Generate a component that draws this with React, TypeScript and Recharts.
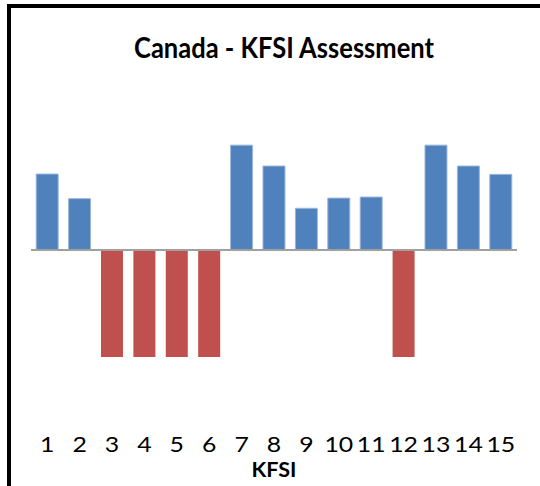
import React from 'react';
import { BarChart, Bar, XAxis, YAxis, Cell, ReferenceLine } from 'recharts';

const categories = ['1', '2', '3', '4', '5', '6', '7', '8', '9', '10', '11', '12', '13', '14', '15'];
const scores = [0.71, 0.48, -1, -1, -1, -1, 0.98, 0.785, 0.39, 0.485, 0.495, -1, 0.98, 0.785, 0.707];
const titleText = 'Canada - KFSI Assessment';
const axisTitle = 'KFSI';

const data = categories.map((c, i) => ({ kfsi: c, score: scores[i] }));

const FONT = 'Lato, "Open Sans", sans-serif';

const Tick = (props: any) => {
  const { x, y, payload } = props;
  const s = String(payload.value);
  return (
    <text
      x={x}
      y={y + 74}
      textAnchor="middle"
      fontFamily={FONT}
      fontSize={22}
      fill="#000"
      textLength={s.length * 14.4}
      lengthAdjust="spacingAndGlyphs"
    >
      {s}
    </text>
  );
};

const AxisTitle = (props: any) => {
  const vb = props.viewBox || {};
  return (
    <text
      x={vb.x + vb.width / 2}
      y={vb.y + 99}
      textAnchor="middle"
      fontFamily={FONT}
      fontWeight={700}
      fontSize={20}
      fill="#000"
      textLength={45}
      lengthAdjust="spacingAndGlyphs"
    >
      {axisTitle}
    </text>
  );
};

export default function App() {
  return (
    <div style={{ position: 'fixed', left: 0, top: 0, width: 540, height: 486, overflow: 'hidden', background: '#fff' }}>
      <div
        style={{
          position: 'absolute',
          left: 7,
          top: 4,
          width: 600,
          height: 600,
          border: '4px solid #000',
          boxSizing: 'border-box',
        }}
      />
      <div style={{ position: 'absolute', left: 0, top: 0 }}>
        <BarChart
          width={540}
          height={486}
          data={data}
          margin={{ top: 121.6, right: 23, bottom: 47.6, left: 31 }}
          barCategoryGap="16%"
        >
          <XAxis
            dataKey="kfsi"
            height={60}
            axisLine={false}
            tickLine={false}
            tickSize={0}
            tickMargin={0}
            interval={0}
            tick={<Tick />}
            label={<AxisTitle />}
          />
          <YAxis hide domain={[-1.2, 1.2]} />
          <Bar dataKey="score" isAnimationActive={false}>
            {data.map((d, i) => (
              <Cell
                key={i}
                fill={d.score >= 0 ? '#4F81BD' : '#C0504D'}
                stroke={d.score >= 0 ? '#9DB7DB' : 'none'}
                strokeWidth={1}
              />
            ))}
          </Bar>
          <ReferenceLine y={0} stroke="#A0A0A0" strokeWidth={2} />
        </BarChart>
      </div>
      <svg style={{ position: 'absolute', left: 0, top: 0 }} width={540} height={100}>
        <text
          x={134}
          y={58}
          fontFamily={FONT}
          fontWeight={700}
          fontSize={28}
          fill="#000"
          textLength={300}
          lengthAdjust="spacingAndGlyphs"
        >
          {titleText}
        </text>
      </svg>
    </div>
  );
}
